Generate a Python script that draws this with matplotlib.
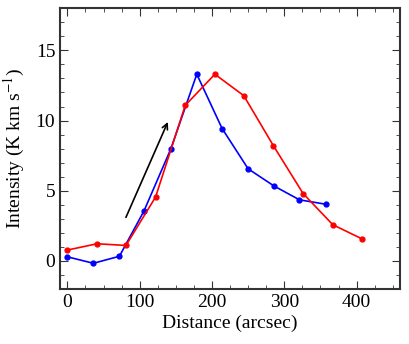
import numpy as np
import matplotlib
matplotlib.use("Agg")
import matplotlib.pyplot as plt
from matplotlib.ticker import MultipleLocator

# blue profile
blue_x = [0, 36, 72, 106, 143, 179, 214, 250, 286, 321, 357]
blue_y = [0.29, -0.17, 0.33, 3.56, 7.97, 13.3, 9.43, 6.56, 5.33, 4.35, 4.04]

# red profile
red_x = [0, 41, 81, 122, 163, 204, 244, 285, 326, 367, 407]
red_y = [0.77, 1.22, 1.1, 4.55, 11.08, 13.3, 11.77, 8.2, 4.8, 2.58, 1.58]

# arrow start/end (data coords)
arrow_start = (81, 3.1)
arrow_end = (139, 9.9)

plt.rcParams['font.family'] = ['Liberation Serif', 'DejaVu Serif']
plt.rcParams['mathtext.fontset'] = 'stix'

fig = plt.figure(figsize=(4.09, 3.44), dpi=100)
ax = fig.add_axes([0.147, 0.16, 0.831, 0.816])

ax.plot(blue_x, blue_y, color='#0000ff', lw=1.2, marker='o', ms=3.5)
ax.plot(red_x, red_y, color='#ff0000', lw=1.2, marker='o', ms=3.5)
ax.annotate('', xy=arrow_end, xytext=arrow_start,
            arrowprops=dict(arrowstyle='->', color='black', lw=1.2,
                            shrinkA=0, shrinkB=0))

ax.set_xlim(-10, 460)
ax.set_ylim(-2, 18)
ax.xaxis.set_major_locator(MultipleLocator(100))
ax.xaxis.set_minor_locator(MultipleLocator(25))
ax.yaxis.set_major_locator(MultipleLocator(5))
ax.yaxis.set_minor_locator(MultipleLocator(1))
ax.tick_params(which='both', direction='in', top=True, right=True,
               labelsize=14, color='#333333')
ax.tick_params(which='major', length=6, width=0.8)
ax.tick_params(which='minor', length=3, width=0.6)
for s in ax.spines.values():
    s.set_linewidth(1.5)
    s.set_color('#333333')

ax.set_xlabel('Distance (arcsec)', fontsize=14, labelpad=3)
ax.set_ylabel(r'Intensity (K km s$^{-1}$)', fontsize=14, labelpad=6)

fig.savefig('out.png', dpi=100)
